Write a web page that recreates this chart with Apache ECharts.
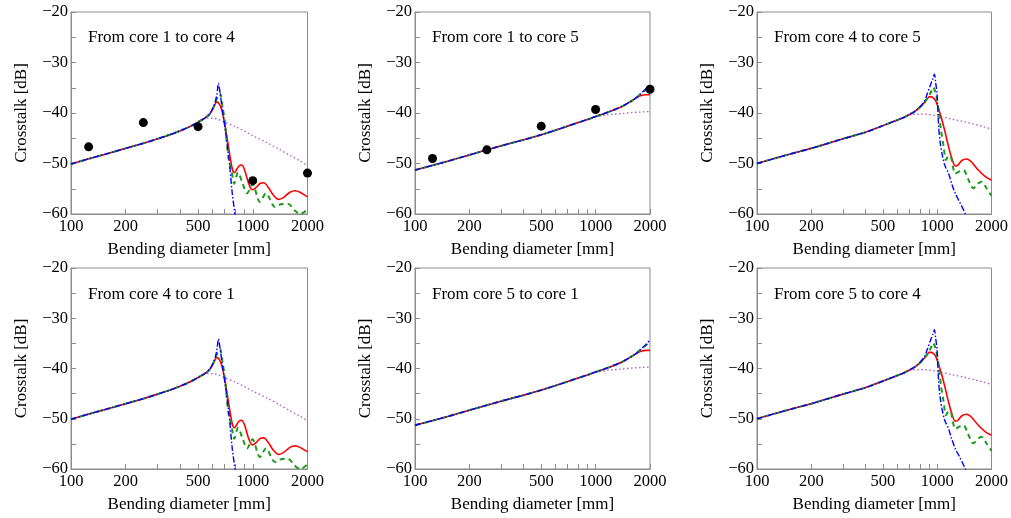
<!DOCTYPE html>
<html>
<head>
<meta charset="utf-8">
<script src="https://cdn.jsdelivr.net/npm/echarts@6/dist/echarts.min.js"></script>
<style>html,body{margin:0;padding:0;background:#fff}#c{width:1011px;height:518px}</style>
</head>
<body>
<div id="c"></div>
<script>
// ---------- data (bending diameter [mm], crosstalk [dB]) ----------
const panelTitles = ['From core 1 to core 4','From core 1 to core 5','From core 4 to core 5',
                     'From core 4 to core 1','From core 5 to core 1','From core 5 to core 4'];
const xLabelValues = [100, 200, 500, 1000, 2000];
const xTickValues = [200, 300, 400, 500, 600, 700, 800, 900, 1000, 2000];

// Panel type A (1->4, 4->1)
const A_base = [[100,-50.1],[130,-48.9],[160,-48.0],[200,-47.0],[250,-46.0],[300,-45.1],[350,-44.3],[400,-43.5],[450,-42.7],[500,-41.8]];
const A_red_tail = [[550,-40.9],[580,-40.2],[600,-39.3],[620,-38.3],[632,-37.8],[645,-37.9],[667,-38.8],[695,-41.4],[725,-45.3],[755,-49.3],[778,-51.5],[795,-51.8],[815,-51.2],[840,-50.5],[868,-50.3],[900,-51.2],[950,-54.0],[992,-55.2],[1040,-54.8],[1100,-53.9],[1150,-53.8],[1220,-54.8],[1300,-56.3],[1388,-57.1],[1480,-56.7],[1600,-55.7],[1710,-55.4],[1820,-55.7],[1920,-56.2],[2000,-56.6]];
const A_green_tail = [[550,-40.9],[580,-40.2],[600,-39.3],[620,-38.2],[640,-36.8],[660,-36.1],[680,-38.5],[703,-42.0],[733,-48.6],[765,-51.5],[790,-54.0],[830,-51.8],[880,-54.0],[930,-55.9],[996,-54.1],[1094,-57.6],[1182,-55.9],[1324,-58.6],[1450,-58.0],[1567,-58.0],[1700,-59.3],[1820,-60.0],[1920,-59.6],[2000,-59.1]];
const A_blue_tail = [[550,-40.9],[580,-40.1],[600,-39.2],[620,-37.9],[635,-36.3],[647,-34.1],[660,-35.9],[681,-39.4],[710,-44.0],[741,-49.3],[771,-55.9],[798,-60.0],[810,-62.0]];
const A_dot_tail = [[520,-41.4],[560,-41.0],[600,-41.0],[650,-41.3],[700,-41.8],[800,-42.7],[900,-43.6],[1000,-44.5],[1200,-45.9],[1400,-47.2],[1600,-48.4],[1800,-49.4],[2000,-50.4]];
const A_measured = [[125,-46.7],[250,-41.9],[500,-42.7],[1000,-53.4],[2000,-51.9]];

// Panel type B (1->5, 5->1)
const B_base = [[100,-51.3],[150,-49.6],[200,-48.3],[300,-46.5],[400,-45.3],[500,-44.3],[600,-43.4],[700,-42.6],[800,-41.9],[900,-41.3],[1000,-40.7]];
const B_red_tail = [[1100,-40.2],[1200,-39.7],[1300,-39.2],[1400,-38.7],[1500,-38.1],[1600,-37.5],[1700,-36.9],[1800,-36.5],[1900,-36.4],[2000,-36.4]];
const B_green_tail = [[1100,-40.2],[1200,-39.7],[1300,-39.2],[1400,-38.7],[1500,-38.1],[1600,-37.5],[1700,-36.8],[1800,-36.0],[1900,-35.4],[2000,-34.7]];
const B_blue_tail = [[1100,-40.2],[1200,-39.7],[1300,-39.2],[1400,-38.7],[1500,-38.1],[1600,-37.5],[1700,-36.8],[1800,-36.0],[1900,-35.2],[2000,-34.3]];
const B_dot_tail = [[1100,-40.5],[1200,-40.3],[1400,-40.1],[1600,-39.9],[1800,-39.8],[2000,-39.7]];
const B_measured = [[125,-49.0],[250,-47.3],[500,-42.6],[1000,-39.3],[2000,-35.3]];

// Panel type C (4->5, 5->4)
const C_base = [[100,-50.0],[150,-48.2],[200,-47.0],[300,-45.1],[400,-43.8],[500,-42.5],[600,-41.4],[650,-40.9]];
const C_red_tail = [[700,-40.3],[750,-39.7],[800,-38.9],[850,-37.9],[880,-37.2],[900,-36.8],[925,-36.8],[950,-37.0],[977,-37.5],[1000,-38.4],[1030,-39.8],[1062,-41.4],[1100,-43.5],[1156,-46.7],[1210,-49.2],[1258,-50.5],[1300,-50.3],[1370,-49.4],[1457,-49.1],[1550,-49.7],[1689,-51.3],[1850,-52.6],[2000,-53.3]];
const C_green_tail = [[700,-40.3],[750,-39.7],[800,-38.9],[850,-37.9],[900,-36.6],[930,-35.6],[950,-34.9],[975,-35.8],[1000,-37.5],[1018,-39.4],[1050,-43.5],[1086,-46.7],[1117,-49.3],[1150,-48.6],[1182,-48.5],[1220,-50.5],[1258,-52.0],[1320,-51.6],[1399,-51.3],[1480,-53.0],[1585,-54.9],[1680,-54.0],[1762,-53.6],[1870,-54.8],[2000,-56.4]];
const C_blue_tail = [[700,-40.3],[750,-39.7],[800,-38.8],[850,-37.6],[880,-36.2],[920,-34.3],[945,-33.2],[964,-32.3],[980,-34.0],[997,-36.1],[1018,-42.7],[1040,-46.0],[1062,-48.0],[1100,-50.3],[1156,-52.0],[1200,-53.9],[1258,-55.9],[1330,-57.6],[1429,-59.9],[1470,-61.0]];
const C_dot_tail = [[700,-40.4],[800,-40.2],[900,-40.3],[1000,-40.6],[1200,-41.2],[1400,-41.7],[1600,-42.2],[1800,-42.7],[2000,-43.2]];

const panelTypes = ['A','B','C','A','B','C'];
const panelHasPoints = [true, true, false, false, false, false];

// ---------- build ----------
const sets = {
  A: {base: A_base, red: A_red_tail, green: A_green_tail, blue: A_blue_tail, dot: A_dot_tail, pts: A_measured},
  B: {base: B_base, red: B_red_tail, green: B_green_tail, blue: B_blue_tail, dot: B_dot_tail, pts: B_measured},
  C: {base: C_base, red: C_red_tail, green: C_green_tail, blue: C_blue_tail, dot: C_dot_tail, pts: []}
};

const FONT = 'Liberation Serif';
const AX = '#8c8c8c';
const lefts = [71, 415, 757];
const widths = [236.5, 235, 236.5];
const tops = [12, 268];
const heights = [202, 201];
const titleLeft = [88, 432, 774];
const titleTop = [29, 286];

const grid = [], xAxis = [], yAxis = [], series = [], title = [];
for (let i = 0; i < 6; i++) {
  const col = i % 3, row = Math.floor(i / 3);
  grid.push({left: lefts[col], top: tops[row], width: widths[col], height: heights[row],
    show: true, borderColor: AX, borderWidth: 1, backgroundColor: 'transparent', containLabel: false});
  xAxis.push({gridIndex: i, type: 'log', logBase: 10, min: 100, max: 2000,
    name: 'Bending diameter [mm]', nameLocation: 'middle', nameGap: 27,
    nameTextStyle: {fontFamily: FONT, fontSize: 17, color: '#000'},
    axisLine: {show: true, lineStyle: {color: AX, width: 1}},
    axisTick: {show: true, inside: true, length: 5, lineStyle: {color: AX}, customValues: xTickValues},
    minorTick: {show: false},
    axisLabel: {show: true, margin: 4, fontFamily: FONT, fontSize: 16.5, color: '#000',
      customValues: xLabelValues, formatter: v => String(Math.round(v))},
    splitLine: {show: false}});
  yAxis.push({gridIndex: i, type: 'value', min: -60, max: -20, interval: 10,
    name: 'Crosstalk [dB]', nameLocation: 'middle', nameGap: 41,
    nameTextStyle: {fontFamily: FONT, fontSize: 17, color: '#000'},
    axisLine: {show: true, lineStyle: {color: AX, width: 1}},
    axisTick: {show: true, inside: true, length: 5, lineStyle: {color: AX}},
    minorTick: {show: true, splitNumber: 2, length: 5, lineStyle: {color: AX}},
    axisLabel: {show: true, margin: 3, fontFamily: FONT, fontSize: 16.5, color: '#000',
      formatter: v => String(v).replace('-', '\u2212')},
    splitLine: {show: false}});
  title.push({text: panelTitles[i], left: titleLeft[col], top: titleTop[row], padding: 0,
    textStyle: {fontFamily: FONT, fontSize: 17, fontWeight: 'normal', color: '#000'}});

  const s = sets[panelTypes[i]];
  const common = {type: 'line', xAxisIndex: i, yAxisIndex: i, showSymbol: false, symbol: 'none',
    smooth: 0.3, animation: false, clip: true, silent: true};
  series.push(Object.assign({}, common, {data: s.base.concat(s.dot), z: 2,
    lineStyle: {color: '#b655c8', width: 1.3, type: [1.5, 2.5]}}));
  series.push(Object.assign({}, common, {data: s.base.concat(s.red), z: 3,
    lineStyle: {color: '#ff0000', width: 1.6, type: 'solid'}}));
  series.push(Object.assign({}, common, {data: s.base.concat(s.green), z: 4,
    lineStyle: {color: '#1b9a1b', width: 2, type: [5, 4]}}));
  series.push(Object.assign({}, common, {data: s.base.concat(s.blue), z: 5,
    lineStyle: {color: '#0000ff', width: 1.4, type: [6, 2, 1.5, 2]}}));
  if (panelHasPoints[i]) {
    series.push({type: 'scatter', xAxisIndex: i, yAxisIndex: i, data: s.pts, symbol: 'circle',
      symbolSize: 9, itemStyle: {color: '#000', opacity: 1}, z: 6, animation: false, silent: true});
  }
}

const chart = echarts.init(document.getElementById('c'), null, {renderer: 'canvas'});
chart.setOption({backgroundColor: '#fff', animation: false, title, grid, xAxis, yAxis, series});
</script>
</body>
</html>
